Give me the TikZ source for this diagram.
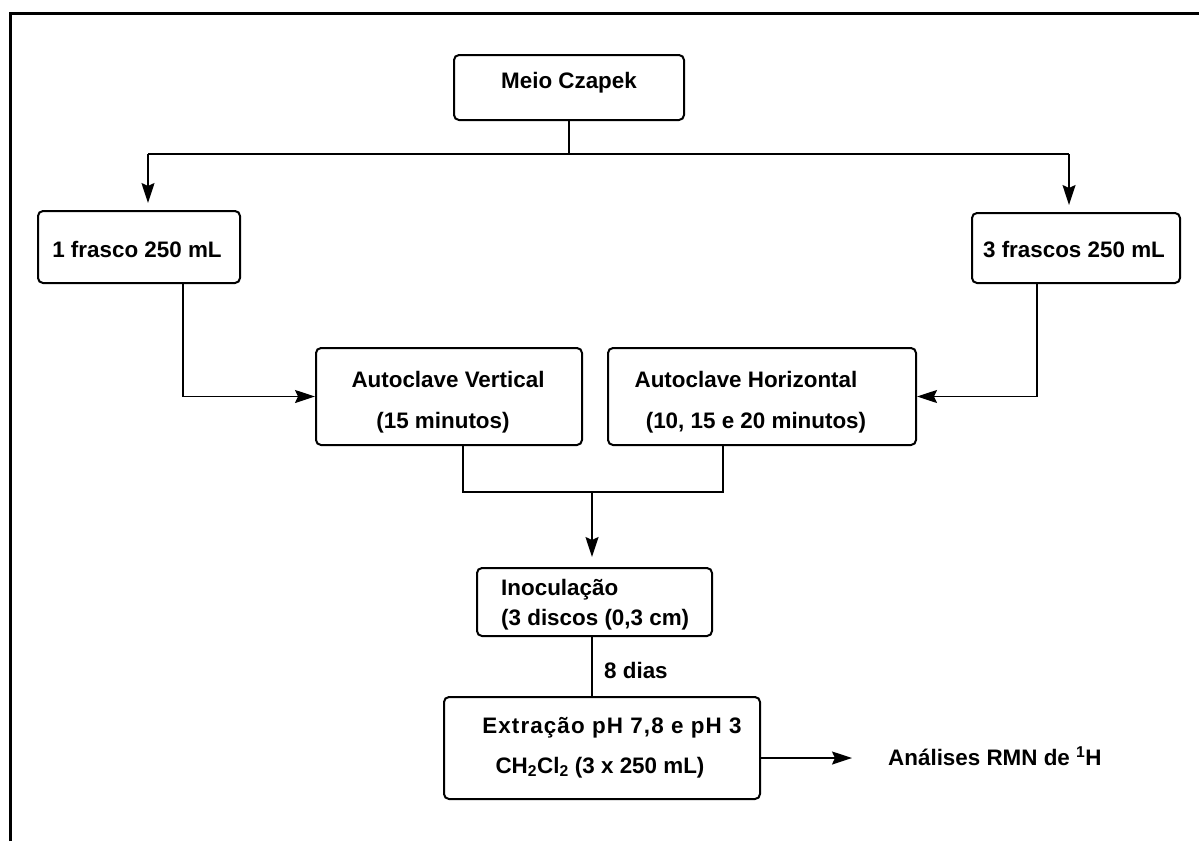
\documentclass[tikz,border=0pt]{standalone}
\usepackage{fontspec}
\setmainfont{Liberation Sans}
\usetikzlibrary{arrows.meta}
\begin{document}
\begin{tikzpicture}[x=1pt,y=-1pt,
  every node/.style={font=\fontsize{22.4}{27}\selectfont\bfseries},
  box/.style={draw, line width=2pt, rounded corners=5pt, inner sep=0pt},
  txt/.style={inner sep=0pt},
  link/.style={line width=1.5pt},
  arr/.style={link, -{Stealth[length=20pt,width=13pt,inset=3pt]}}]
\useasboundingbox (0,0) rectangle (1199,841);
% outer frame (top and left sides)
\draw[line width=3pt] (10,841) -- (10,13) -- (1199,13);

% boxes
\node[box, minimum width=230pt, minimum height=65pt]  (czapek) at (569,87.5) {};
\node[box, minimum width=202pt, minimum height=72pt]  (f1)     at (139,247) {};
\node[box, minimum width=208pt, minimum height=70pt]  (f3)     at (1076,248) {};
\node[box, minimum width=266pt, minimum height=97pt]  (vert)   at (449,396.5) {};
\node[box, minimum width=308pt, minimum height=97pt]  (horiz)  at (762,396.5) {};
\node[box, minimum width=235pt, minimum height=68pt]  (inoc)   at (594.5,602) {};
\node[box, minimum width=316pt, minimum height=102pt] (ext)    at (602,748) {};

% texts
\node[txt, anchor=base] (tczapek) at (569,88) {Meio Czapek};
\node[txt, anchor=base] (tf1) at (137,257) {1 frasco 250 mL};
\node[txt, anchor=base] (tf3) at (1074,257) {3 frascos 250 mL};
\node[txt, anchor=base] (tvert1) at (448,387) {Autoclave Vertical};
\node[txt, anchor=base] (tvert2) at (443,428) {(15 minutos)};
\node[txt, anchor=base] (thoriz1) at (746,387) {Autoclave Horizontal};
\node[txt, anchor=base] (thoriz2) at (756,428) {(10, 15 e 20 minutos)};
\node[txt, anchor=base west] (tinoc1) at (501,595) {Inoculação};
\node[txt, anchor=base west] (tinoc2) at (501,625) {(3 discos (0,3 cm)};
\node[txt, anchor=base west] (tdias) at (604,678) {8 dias};
\node[txt, anchor=base] (text1) at (612,733) {\addfontfeature{LetterSpace=5}Extração pH 7,8 e pH 3};
\node[txt, anchor=base] (text2) at (600,773) {CH\textsubscript{2}Cl\textsubscript{2} (3 x 250 mL)};
\node[txt, anchor=base west] (rmn) at (888,765) {Análises RMN de \textsuperscript{1}H};

% connectors
\coordinate (split) at (569,154);
\coordinate (lt) at (148,154);
\coordinate (rt) at (1069,154);
\coordinate (join) at (592,492);
\draw[link] (czapek.south) -- (split);
\draw[link] (lt) -- (rt);
\draw[arr, shorten >=7pt] (lt) -- (lt |- f1.north);
\draw[arr, shorten >=7pt] (rt) -- (rt |- f3.north);
\draw[arr] ([xshift=44pt]f1.south) |- (vert.west);
\draw[arr] ([xshift=-39pt]f3.south) |- (horiz.east);
\draw[link] ([xshift=14pt]vert.south) |- (join) -| ([xshift=-39pt]horiz.south);
\draw[arr, shorten >=10pt] (join) -- (join |- inoc.north);
\draw[link] ([xshift=-2.5pt]inoc.south) -- ([xshift=-2.5pt]inoc.south |- ext.north);
\draw[arr, shorten >=36pt] ([yshift=-10pt]ext.east) -- ([yshift=-10pt]ext.east -| rmn.west);
\end{tikzpicture}
\end{document}
